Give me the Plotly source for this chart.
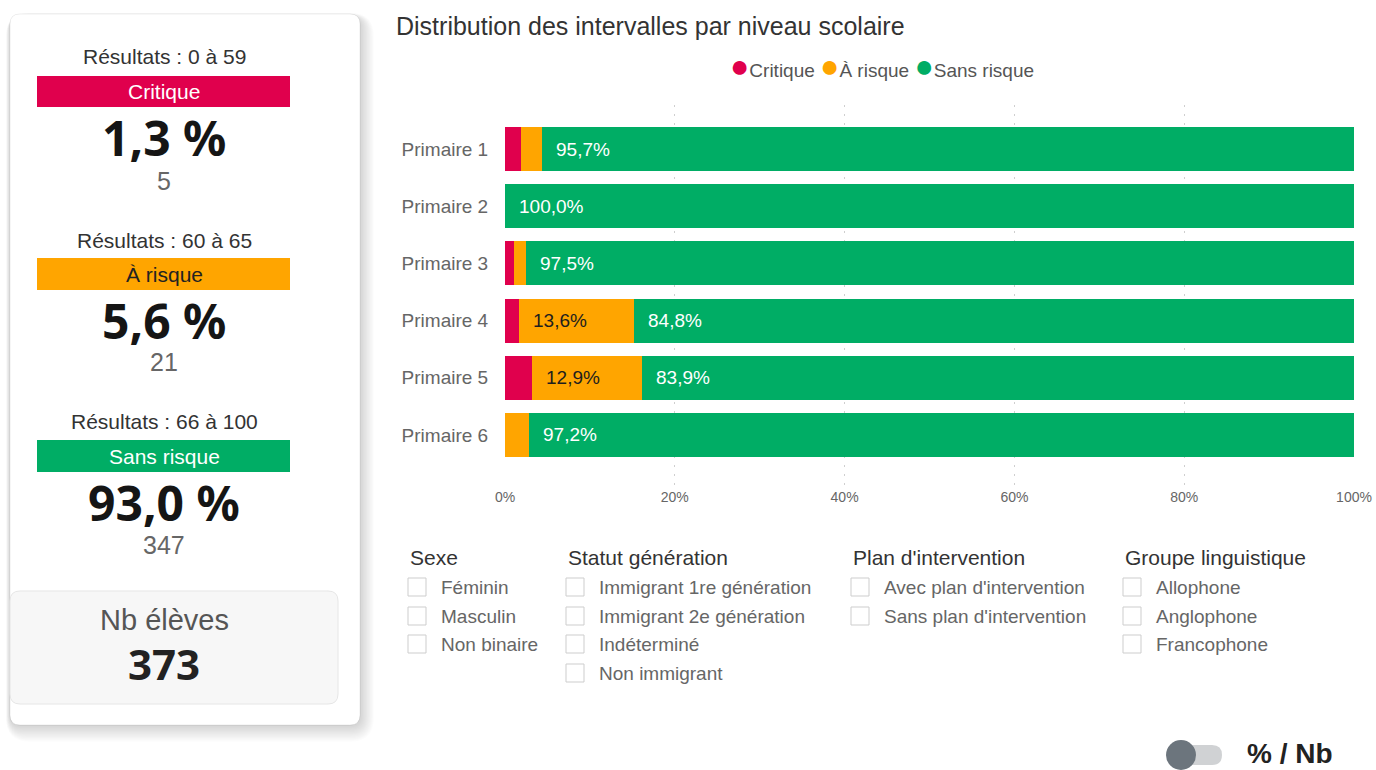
import plotly.graph_objects as go

W, H = 1376, 770

# ---------------- data ----------------
levels = ["Primaire 1", "Primaire 2", "Primaire 3", "Primaire 4", "Primaire 5", "Primaire 6"]
critique = [1.9, 0.0, 1.1, 1.6, 3.2, 0.0]
a_risque = [2.4, 0.0, 1.4, 13.6, 12.9, 2.8]
sans_risque = [95.7, 100.0, 97.5, 84.8, 83.9, 97.2]
series_names = ["Critique", "À risque", "Sans risque"]
series_colors = ["#E0004D", "#FFA500", "#00AD65"]
label_colors = ["#FFFFFF", "#1E1E1E", "#FFFFFF"]
x_ticks = [0, 20, 40, 60, 80, 100]

summary_ranges = ["Résultats : 0 à 59", "Résultats : 60 à 65", "Résultats : 66 à 100"]
summary_pct = [1.3, 5.6, 93.0]
summary_counts = [5, 21, 347]
total_label = "Nb élèves"
total_students = 373

filter_titles = ["Sexe", "Statut génération", "Plan d'intervention", "Groupe linguistique"]
filter_sexe = ["Féminin", "Masculin", "Non binaire"]
filter_statut = ["Immigrant 1re génération", "Immigrant 2e génération", "Indéterminé", "Non immigrant"]
filter_plan = ["Avec plan d'intervention", "Sans plan d'intervention"]
filter_langue = ["Allophone", "Anglophone", "Francophone"]
toggle_label = "% / Nb"

TXT = "Arial, Liberation Sans, sans-serif"
BOLD = "Noto Sans, Open Sans, sans-serif"


def fx(px):
    return px / W


def fy(py):
    return 1 - py / H


def rrect(x0, y0, x1, y1, r):
    pts = [
        ("M", x0 + r, y0), ("L", x1 - r, y0), ("Q", x1, y0, x1, y0 + r),
        ("L", x1, y1 - r), ("Q", x1, y1, x1 - r, y1), ("L", x0 + r, y1),
        ("Q", x0, y1, x0, y1 - r), ("L", x0, y0 + r), ("Q", x0, y0, x0 + r, y0),
    ]
    out = []
    for p in pts:
        if p[0] == "Q":
            out.append(f"Q {fx(p[1]):.5f},{fy(p[2]):.5f} {fx(p[3]):.5f},{fy(p[4]):.5f}")
        else:
            out.append(f"{p[0]} {fx(p[1]):.5f},{fy(p[2]):.5f}")
    return " ".join(out) + " Z"


fig = go.Figure()
series_vals = [critique, a_risque, sans_risque]
for name, vals, col in zip(series_names, series_vals, series_colors):
    fig.add_trace(go.Bar(
        y=levels, x=vals, orientation="h", name=name, width=0.77,
        marker=dict(color=col, line=dict(width=0)), showlegend=False,
        hovertemplate="%{y}<br>" + name + " : %{x:.1f}%<extra></extra>",
    ))

shapes = []
ann = []

# bar segment labels
for i, lev in enumerate(levels):
    start = 0.0
    for k, vals in enumerate(series_vals):
        v = vals[i]
        if v >= 5:
            ann.append(dict(
                x=start, y=lev, xref="x", yref="y", xanchor="left", yanchor="middle",
                xshift=12, showarrow=False,
                text=f"{v:.1f}".replace(".", ",") + "%",
                font=dict(family=TXT, size=19, color=label_colors[k]),
            ))
        start += v

# compact legend (coloured dots + names)
legend_txt = " ".join(
    f"<span style='color:{c};font-size:32px'>●</span>{n}" for n, c in zip(series_names, series_colors)
)
ann.append(dict(x=fx(882), y=fy(66), xref="paper", yref="paper", showarrow=False,
                xanchor="center", yanchor="middle", text=legend_txt,
                font=dict(family=TXT, size=19, color="#555555")))

# ---------------- left card ----------------
for i in range(14, 0, -1):
    shapes.append(dict(type="path", xref="paper", yref="paper", layer="below",
                       path=rrect(10 - i * 0.3, 14 - i * 0.3 + 3, 360 + i, 725 + i * 1.2, 10 + i),
                       fillcolor="rgba(0,0,0,0.012)", line=dict(width=0)))
shapes.append(dict(type="path", xref="paper", yref="paper", layer="below",
                   path=rrect(10, 14, 360, 725, 10),
                   fillcolor="white", line=dict(color="rgba(0,0,0,0.07)", width=1)))

band_y = [(76, 107), (258, 290), (440, 472)]
band_text_col = ["#FFFFFF", "#222222", "#FFFFFF"]
range_y = [57, 240, 421]
pct_y = [138, 320, 502]
cnt_y = [181, 362, 545]
cx = 164
for k in range(3):
    y0, y1 = band_y[k]
    shapes.append(dict(type="rect", xref="paper", yref="paper", layer="below",
                       x0=fx(37), x1=fx(290), y0=fy(y1), y1=fy(y0),
                       fillcolor=series_colors[k], line=dict(width=0)))
    ann.append(dict(x=fx(cx), y=fy(range_y[k]), xref="paper", yref="paper", showarrow=False,
                    xanchor="center", yanchor="middle", text=summary_ranges[k],
                    font=dict(family=TXT, size=21, color="#333333")))
    ann.append(dict(x=fx(cx), y=fy((y0 + y1) / 2), xref="paper", yref="paper", showarrow=False,
                    xanchor="center", yanchor="middle", text=series_names[k],
                    font=dict(family=TXT, size=21, color=band_text_col[k])))
    ann.append(dict(x=fx(cx), y=fy(pct_y[k]), xref="paper", yref="paper", showarrow=False,
                    xanchor="center", yanchor="middle",
                    text=f"{summary_pct[k]:.1f}".replace(".", ",") + " %",
                    font=dict(family=BOLD, size=48, color="#151515", weight=700)))
    ann.append(dict(x=fx(cx), y=fy(cnt_y[k]), xref="paper", yref="paper", showarrow=False,
                    xanchor="center", yanchor="middle", text=str(summary_counts[k]),
                    font=dict(family=TXT, size=25, color="#666666")))

shapes.append(dict(type="path", xref="paper", yref="paper", layer="below",
                   path=rrect(10, 591, 338, 704, 10),
                   fillcolor="#F7F7F7", line=dict(color="#E6E6E6", width=1)))
ann.append(dict(x=fx(cx), y=fy(620), xref="paper", yref="paper", showarrow=False,
                xanchor="center", yanchor="middle", text=total_label,
                font=dict(family=TXT, size=29, color="#555555")))
ann.append(dict(x=fx(cx), y=fy(663), xref="paper", yref="paper", showarrow=False,
                xanchor="center", yanchor="middle", text=str(total_students),
                font=dict(family=BOLD, size=42, color="#222222", weight=700)))

# ---------------- filters ----------------
col_x = [408, 566, 851, 1123]
groups = [filter_sexe, filter_statut, filter_plan, filter_langue]
row_y = [587, 616, 644, 673]
for c, (title, items) in enumerate(zip(filter_titles, groups)):
    x0 = col_x[c]
    ann.append(dict(x=fx(x0), y=fy(557), xref="paper", yref="paper", showarrow=False,
                    xanchor="left", yanchor="middle", text=title,
                    font=dict(family=TXT, size=21, color="#333333")))
    for r, it in enumerate(items):
        yc = row_y[r]
        shapes.append(dict(type="rect", xref="paper", yref="paper", layer="above",
                           x0=fx(x0), x1=fx(x0 + 18), y0=fy(yc + 9), y1=fy(yc - 9),
                           fillcolor="white", line=dict(color="#CDCDCD", width=1)))
        ann.append(dict(x=fx(x0 + 31), y=fy(yc), xref="paper", yref="paper", showarrow=False,
                        xanchor="left", yanchor="middle", text=it,
                        font=dict(family=TXT, size=19, color="#666666")))

# ---------------- toggle ----------------
shapes.append(dict(type="path", xref="paper", yref="paper", layer="above",
                   path=rrect(1168, 745, 1222, 765, 10),
                   fillcolor="#D0D2D4", line=dict(width=0)))
shapes.append(dict(type="circle", xref="paper", yref="paper", layer="above",
                   x0=fx(1166), x1=fx(1196), y0=fy(770), y1=fy(740),
                   fillcolor="#6C757D", line=dict(width=0)))
ann.append(dict(x=fx(1245), y=fy(753), xref="paper", yref="paper", showarrow=False,
                xanchor="left", yanchor="middle", text=toggle_label,
                font=dict(family=TXT, size=28, color="#222222", weight=700)))

fig.update_layout(
    width=W, height=H, margin=dict(l=0, r=0, t=0, b=0, autoexpand=False),
    paper_bgcolor="white", plot_bgcolor="white", barmode="stack",
    separators=", ", showlegend=False,
    title=dict(text="Distribution des intervalles par niveau scolaire",
               x=fx(396), xanchor="left", xref="paper", y=fy(26), yanchor="middle",
               font=dict(family=TXT, size=25, color="#333333")),
    xaxis=dict(domain=[fx(505), fx(1354)], range=[0, 100], tickmode="array",
               tickvals=x_ticks, ticktext=[f"{t}%" for t in x_ticks], automargin=False,
               showgrid=True, gridcolor="#CFCFCF", griddash="2px,7px", gridwidth=1,
               zeroline=False, showline=False, ticks="", ticklen=0,
               tickfont=dict(family=TXT, size=14, color="#666666"), fixedrange=True),
    yaxis=dict(domain=[fy(487), fy(105)], range=[5.91, -0.77], type="category",
               automargin=False, showgrid=False, zeroline=False, showline=False,
               ticks="outside", ticklen=12, tickcolor="rgba(0,0,0,0)",
               tickfont=dict(family=TXT, size=19, color="#666666"), fixedrange=True),
    shapes=shapes, annotations=ann,
)

fig.write_html(
    "out.html",
    config={"responsive": False, "displayModeBar": False},
    post_script="document.body.style.margin='0px';document.body.style.overflow='hidden';",
)
